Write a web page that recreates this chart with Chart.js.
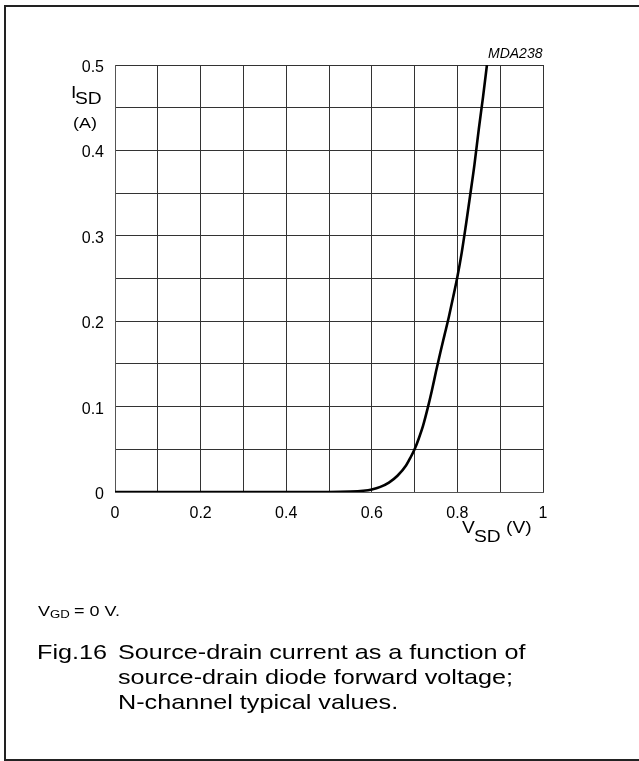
<!DOCTYPE html>
<html>
<head>
<meta charset="utf-8">
<script src="https://cdn.jsdelivr.net/npm/chart.js@4.4.1/dist/chart.umd.min.js"></script>
<style>
  html, body { margin: 0; padding: 0; background: #fff; }
  body { width: 639px; height: 761px; position: relative; overflow: hidden;
         font-family: "Liberation Sans", Arial, sans-serif; color: #000; }
  #wrap { position: absolute; left: 0; top: 0; width: 639px; height: 761px; }
  .frame { position: absolute; left: 4px; top: 5px; width: 700px; height: 752px;
           border: 2px solid #222; border-right: none; }
  .lbl { position: absolute; white-space: nowrap; line-height: 1;
         transform-origin: 0 0; transform: scaleX(1.2); }
</style>
</head>
<body>
<div class="frame"></div>
<div id="wrap"><canvas id="chart" width="639" height="761"></canvas></div>

<div class="lbl" style="left:488px; top:46px; font-size:14px; font-style:italic; transform:none;">MDA238</div>

<div class="lbl" style="left:71px; top:85px; font-size:16px;">I</div>
<div class="lbl" style="left:75px; top:91px; font-size:16px;">SD</div>
<div class="lbl" style="left:73px; top:115px; font-size:15px;">(A)</div>

<div class="lbl" style="left:462px; top:520px; font-size:16px;">V</div>
<div class="lbl" style="left:474px; top:529px; font-size:16px;">SD</div>
<div class="lbl" style="left:506px; top:520px; font-size:16px;">(V)</div>

<div class="lbl" style="left:38px; top:603px; font-size:15px;">V</div>
<div class="lbl" style="left:50px; top:609px; font-size:11px;">GD</div>
<div class="lbl" style="left:74px; top:603px; font-size:15px;">= 0 V.</div>

<div class="lbl" style="left:37px; top:641px; font-size:21px;">Fig.16</div>
<div class="lbl" style="left:118px; top:641px; font-size:21px;">Source-drain current as a function of</div>
<div class="lbl" style="left:118px; top:666px; font-size:21px;">source-drain diode forward voltage;</div>
<div class="lbl" style="left:118px; top:691px; font-size:21px;">N-channel typical values.</div>

<script>
// forward voltage V_SD (V) and source-drain current I_SD (A)
var vsd = [0, 0.1, 0.2, 0.3, 0.4, 0.5, 0.55, 0.58, 0.6, 0.62, 0.64, 0.66, 0.68, 0.69, 0.7,
           0.71, 0.72, 0.73, 0.74, 0.75, 0.76, 0.77, 0.78, 0.79, 0.8, 0.81, 0.82, 0.83,
           0.84, 0.85, 0.86, 0.869];
var isd = [0, 0, 0, 0, 0, 0, 0.0005, 0.0015, 0.003, 0.006, 0.011, 0.019, 0.031, 0.04, 0.05,
           0.063, 0.078, 0.097, 0.118, 0.141, 0.163, 0.184, 0.205, 0.228, 0.252, 0.28,
           0.313, 0.348, 0.384, 0.425, 0.463, 0.5];

var xTickLabels = ["0", "", "0.2", "", "0.4", "", "0.6", "", "0.8", "", "1"];
var yTickLabels = ["0", "", "0.1", "", "0.2", "", "0.3", "", "0.4", "", "0.5"];

var points = vsd.map(function (v, i) { return { x: v, y: isd[i] }; });

var ctx = document.getElementById("chart").getContext("2d");
new Chart(ctx, {
    type: "line",
    data: {
        datasets: [{
            data: points,
            borderColor: "#000",
            borderWidth: 2.6,
            pointRadius: 0,
            cubicInterpolationMode: "monotone",
            fill: false
        }]
    },
    options: {
        responsive: false,
        animation: false,
        layout: { padding: { left: 0, top: 65, right: 96, bottom: 0 } },
        plugins: { legend: { display: false }, tooltip: { enabled: false } },
        scales: {
            x: {
                type: "linear",
                min: 0, max: 1,
                afterFit: function (s) { s.height = 269; },
                border: { color: "#555", width: 1 },
                grid: { color: "#333", lineWidth: 1, drawTicks: false },
                ticks: {
                    stepSize: 0.1,
                    padding: 12,
                    color: "#000",
                    font: { family: "Liberation Sans", size: 16 },
                    maxRotation: 0,
                    autoSkip: false,
                    callback: function (v, i) { return xTickLabels[i]; }
                }
            },
            y: {
                type: "linear",
                min: 0, max: 0.5,
                afterFit: function (s) { s.width = 115; },
                border: { color: "#555", width: 1 },
                grid: { color: "#333", lineWidth: 1, drawTicks: false },
                ticks: {
                    stepSize: 0.05,
                    padding: 11,
                    labelOffset: 2.5,
                    color: "#000",
                    font: { family: "Liberation Sans", size: 16 },
                    autoSkip: false,
                    callback: function (v, i) { return yTickLabels[i]; }
                }
            }
        }
    }
});
</script>
</body>
</html>
